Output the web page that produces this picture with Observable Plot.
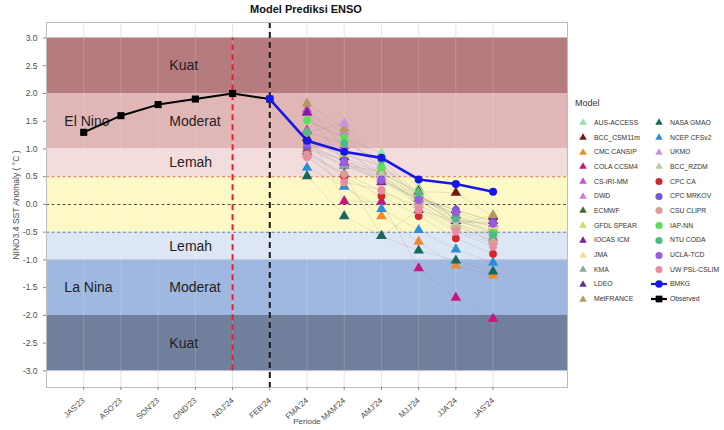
<!DOCTYPE html>
<html>
<head>
<meta charset="utf-8">
<script src="https://cdn.jsdelivr.net/npm/d3@7"></script>
<script src="https://cdn.jsdelivr.net/npm/@observablehq/plot@0.6"></script>
<style>
  body { margin: 0; background: #fff; font-family: "Liberation Sans", Arial, sans-serif; }
  #wrap { position: relative; width: 724px; height: 430px; overflow: hidden; }
  #title { position: absolute; top: 3px; left: 0; width: 612px; text-align: center; font-weight: bold; font-size: 11px; color: #111; }
  #legend { position: absolute; left: 575px; top: 98px; font-size: 6.8px; color: #333; }
  #legend .lt { font-size: 9px; margin-bottom: 7px; }
  #legend .grid { display: grid; grid-template-columns: 76px 72px; grid-auto-flow: column; grid-template-rows: repeat(13, 14.7px); }
  #legend .item { display: flex; align-items: center; white-space: nowrap; }
  #legend svg { width: 16px; height: 10px; margin-right: 3px; flex: none; }
</style>
</head>
<body>
<div id="wrap">
  <div id="chart"></div>
  <div id="title">Model Prediksi ENSO</div>
  <div id="legend"><div class="lt">Model</div><div class="grid" id="lg"></div></div>
</div>
<script>
// ---------- data ----------
const periods = ["JAS'23","ASO'23","SON'23","OND'23","NDJ'24","FEB'24","FMA'24","MAM'24","AMJ'24","MJJ'24","JJA'24","JAS'24"];
const observedPeriods = periods.slice(0, 6);
const observedValues = [1.3, 1.6, 1.8, 1.9, 2.0, 1.9];
const bmkgPeriods = periods.slice(5);
const bmkgValues = [1.9, 1.15, 0.95, 0.84, 0.45, 0.37, 0.23];
const forecastPeriods = periods.slice(6);

const modelNames = ["AUS-ACCESS","BCC_CSM11m","CMC CANSIP","COLA CCSM4","CS-IRI-MM","DWD","ECMWF","GFDL SPEAR","IOCAS ICM","JMA","KMA","LDEO","MetFRANCE","NASA GMAO","NCEP CFSv2","UKMO","BCC_RZDM","CPC CA","CPC MRKOV","CSU CLIPR","IAP-NN","NTU CODA","UCLA-TCD","UW PSL-CSLIM"];
const modelColors = ["#86e8a8","#7a1414","#ee8a2a","#c8157e","#d44fd0","#d27ccc","#3f6a2a","#c6e060","#7d1fa0","#f4dc90","#85a89c","#5c3890","#b39a5c","#17695a","#2b8fd8","#c990e4","#bccaa4","#d7262b","#7258d8","#d8a094","#58e058","#4cbc80","#9a5ae2","#ec8ca4"];
const modelSymbols = ["triangle","triangle","triangle","triangle","triangle","triangle","triangle","triangle","triangle","triangle","triangle","triangle","triangle","triangle","triangle","triangle","triangle","circle","circle","circle","circle","circle","circle","circle"];
// values for FMA'24 .. JAS'24, one row per model
const modelValues = [
  [1.50, 1.20, 0.92, 0.30, -0.30, -0.50],
  [1.20, 0.85, 0.55, 0.23, 0.21, -0.22],
  [0.90, 0.33, -0.21, -0.67, -1.10, -1.28],
  [1.33, 0.06, 0.05, -1.15, -1.68, -2.06],
  [1.71, 1.05, 0.45, 0.10, -0.35, -0.60],
  [1.65, 1.30, 0.50, 0.05, -0.30, -0.45],
  [1.00, 0.70, 0.60, 0.17, -0.20, -0.40],
  [1.10, 0.90, 0.70, 0.20, -0.35, -0.55],
  [1.66, 0.75, 0.40, 0.10, -0.10, -0.30],
  [1.00, 0.80, 0.50, 0.15, -0.25, -0.40],
  [1.05, 0.70, 0.45, 0.00, -0.40, -0.65],
  [0.95, 0.55, -0.57, -0.10, -0.30, -0.35],
  [1.82, 1.37, 0.60, 0.10, -0.37, -0.19],
  [0.51, -0.21, -0.57, -0.83, -1.01, -1.21],
  [0.66, 0.32, -0.08, -0.46, -0.81, -1.05],
  [1.30, 1.46, 0.70, 0.15, -0.28, -0.35],
  [1.15, 0.95, 0.55, 0.00, -0.37, -0.67],
  [0.95, 0.50, 0.15, -0.21, -0.61, -0.89],
  [1.05, 0.80, 0.45, 0.12, -0.10, -0.31],
  [0.90, 0.55, 0.25, -0.05, -0.45, -0.70],
  [1.52, 1.21, 0.67, 0.15, -0.20, -0.51],
  [1.30, 1.10, 0.80, 0.20, -0.25, -0.55],
  [1.10, 0.76, 0.44, 0.08, -0.15, -0.35],
  [0.85, 0.40, 0.26, -0.10, -0.49, -0.76]
];

const bandLow  = [2, 1, 0.5, -0.5, -1, -2, -3];
const bandHigh = [3, 2, 1, 0.5, -0.5, -1, -2];
const bandColors = ["#b67b7e", "#e1b6b6", "#f2dcdc", "#fdf9c6", "#dde6f5", "#a0b7df", "#707f9b"];

const thresholdValues = [0.5, 0, -0.5];
const thresholdColors = ["#e46a6a", "#555555", "#6d7ea6"];

const labelTexts = ["Kuat","Moderat","Lemah","El Nino","Lemah","Moderat","La Nina","Kuat"];
const labelValues = [2.5, 1.5, 0.75, 1.5, -0.75, -1.5, -1.5, -2.5];
const labelPos = [3.3, 3.3, 3.3, 0.48, 3.3, 3.3, 0.48, 3.3];

const yTicks = d3.range(-3, 3.01, 0.5);

// ---------- build tables ----------
const idx = p => periods.indexOf(p) + 1;
const bands = bandLow.map((lo, i) => ({lo, hi: bandHigh[i], fill: bandColors[i]}));
const thresholds = thresholdValues.map((v, i) => ({v, c: thresholdColors[i]}));
const labels = labelTexts.map((t, i) => ({t, v: labelValues[i], x: labelPos[i]}));
const observed = observedPeriods.map((p, i) => ({x: idx(p), y: observedValues[i]}));
const bmkg = bmkgPeriods.map((p, i) => ({x: idx(p), y: bmkgValues[i]}));
const models = [];
modelNames.forEach((m, j) => forecastPeriods.forEach((p, i) => models.push({
  model: m, x: idx(p), y: modelValues[j][i], color: modelColors[j], symbol: modelSymbols[j]
})));

const W = 724, H = 430;
const chart = Plot.plot({
  width: W, height: H,
  marginLeft: 46, marginRight: 157, marginTop: 22, marginBottom: 43,
  style: {fontFamily: "'Liberation Sans', Arial, sans-serif", fontSize: "9px", color: "#4d4d4d", background: "#fff"},
  x: {domain: [0, 14]},
  y: {domain: [-3.3, 3.28]},
  marks: [
    Plot.gridX(d3.range(1, 13), {stroke: "#cfcfcf", strokeOpacity: 0.6}),
    Plot.gridY(yTicks, {stroke: "#cfcfcf", strokeOpacity: 0.6}),
    Plot.rect(bands, {y1: "lo", y2: "hi", fill: "fill"}),
    Plot.gridX(d3.range(1, 13), {stroke: "#ffffff", strokeOpacity: 0.18}),
    Plot.ruleY(thresholds, {y: "v", stroke: "c", strokeWidth: 1.1, strokeDasharray: "3,2.5"}),
    Plot.ruleX([idx("NDJ'24")], {y1: -3, y2: 3, stroke: "#e8202a", strokeWidth: 2, strokeDasharray: "6,4"}),
    Plot.ruleX([idx("FEB'24")], {stroke: "#1a1a1a", strokeWidth: 2, strokeDasharray: "6,4"}),
    Plot.text(labels, {x: "x", y: "v", text: "t", textAnchor: "start", fontSize: 14, fill: "#222"}),
    Plot.line(models, {x: "x", y: "y", z: "model", stroke: "#8a8a8a", strokeOpacity: 0.35, strokeWidth: 0.6}),
    Plot.dot(models, {x: "x", y: "y", fill: "color", symbol: "symbol", r: 3.9, stroke: "none"}),
    Plot.line(observed, {x: "x", y: "y", stroke: "#000", strokeWidth: 2}),
    Plot.dot(observed, {x: "x", y: "y", symbol: "square", fill: "#000", r: 4}),
    Plot.line(bmkg, {x: "x", y: "y", stroke: "#1717e6", strokeWidth: 2.6}),
    Plot.dot(bmkg, {x: "x", y: "y", fill: "#1717e6", r: 4}),
    Plot.frame({stroke: "#bdbdbd"}),
    Plot.axisY(yTicks, {tickFormat: d => d.toFixed(1), tickSize: 3, stroke: "#888", fontSize: 8.5, fill: "#4d4d4d",
      label: "NINO3.4 SST Anomaly ( °C )", labelAnchor: "center", labelOffset: 34, labelArrow: "none"}),
    Plot.axisX(d3.range(1, 13), {tickFormat: i => periods[i - 1], tickRotate: -42, tickSize: 3, stroke: "#888", fontSize: 8, fill: "#4d4d4d",
      label: "Periode", labelAnchor: "center", labelOffset: 36, labelArrow: "none"})
  ]
});
document.getElementById("chart").appendChild(chart);

// ---------- legend ----------
const lg = document.getElementById("lg");
function sym(color, symbol) {
  const ns = "http://www.w3.org/2000/svg";
  const s = document.createElementNS(ns, "svg");
  s.setAttribute("viewBox", "0 0 16 10");
  const p = document.createElementNS(ns, "path");
  p.setAttribute("d", d3.symbol(symbol === "circle" ? d3.symbolCircle : d3.symbolTriangle2, 40)());
  p.setAttribute("transform", "translate(8,5.5)");
  p.setAttribute("fill", color);
  s.appendChild(p);
  return s;
}
function lineSym(color, symbol) {
  const ns = "http://www.w3.org/2000/svg";
  const s = document.createElementNS(ns, "svg");
  s.setAttribute("viewBox", "0 0 16 10");
  const l = document.createElementNS(ns, "line");
  l.setAttribute("x1", 0); l.setAttribute("x2", 16); l.setAttribute("y1", 5); l.setAttribute("y2", 5);
  l.setAttribute("stroke", color); l.setAttribute("stroke-width", 2.2);
  s.appendChild(l);
  const p = document.createElementNS(ns, "path");
  p.setAttribute("d", d3.symbol(symbol === "square" ? d3.symbolSquare : d3.symbolCircle, 45)());
  p.setAttribute("transform", "translate(8,5)");
  p.setAttribute("fill", color);
  s.appendChild(p);
  return s;
}
function addItem(svg, name) {
  const d = document.createElement("div");
  d.className = "item";
  d.appendChild(svg);
  const t = document.createElement("span");
  t.textContent = name;
  d.appendChild(t);
  lg.appendChild(d);
}
modelNames.forEach((m, j) => addItem(sym(modelColors[j], modelSymbols[j]), m));
addItem(lineSym("#1717e6", "circle"), "BMKG");
addItem(lineSym("#000", "square"), "Observed");
</script>
</body>
</html>
